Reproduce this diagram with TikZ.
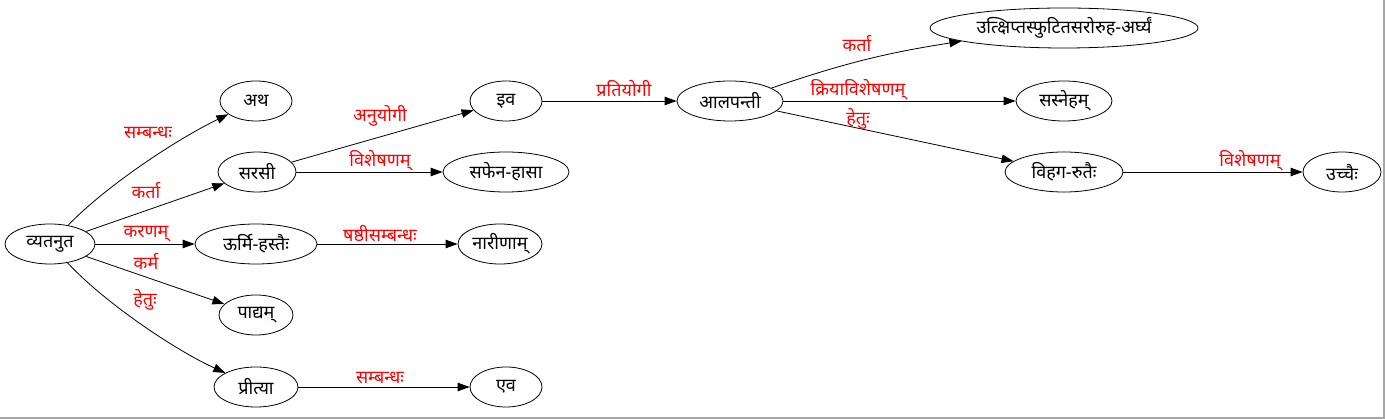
\documentclass[tikz,border=0pt]{standalone}
\usepackage{fontspec}
\newfontfamily\deva[Script=Devanagari]{Noto Sans}
\usetikzlibrary{shapes.geometric,arrows.meta}
\begin{document}
\begin{tikzpicture}[x=1pt,y=-1pt,
  font=\deva\fontsize{18}{20}\selectfont,
  nd/.style={ellipse,draw,line width=0.8pt,inner sep=0pt,minimum height=40pt},
  ed/.style={draw,line width=0.8pt,-{Triangle[length=12pt,width=8.5pt]}},
  lbl/.style={text=red,inner sep=0pt}]
\useasboundingbox (0,0) rectangle (1385,419);
\fill[white] (0,0) rectangle (1385,419);
\draw[gray!70,line width=1.5pt] (0,418) -- (1384,418) -- (1384,0);

% nodes
\node[nd,minimum width=90pt]  (n1)  at (50,244)  {व्यतनुत};
\node[nd,minimum width=72pt]  (n2)  at (256,101) {अथ};
\node[nd,minimum width=78pt]  (n3)  at (257,172) {सरसी};
\node[nd,minimum width=122pt] (n4)  at (256,244) {ऊर्मि-हस्तैः};
\node[nd,minimum width=74pt]  (n5)  at (256,315) {पाद्यम्};
\node[nd,minimum width=84pt]  (n6)  at (256,387) {प्रीत्या};
\node[nd,minimum width=72pt]  (n7)  at (506,101) {इव};
\node[nd,minimum width=126pt] (n8)  at (506,172) {सफेन-हासा};
\node[nd,minimum width=84pt]  (n9)  at (500,244) {नारीणाम्};
\node[nd,minimum width=72pt]  (n10) at (506,387) {एव};
\node[nd,minimum width=106pt] (n11) at (730,101) {आलपन्ती};
\node[nd,minimum width=268pt] (n12) at (1064,28) {उत्क्षिप्तस्फुटितसरोरुह-अर्घ्यं};
\node[nd,minimum width=96pt]  (n13) at (1064,101) {सस्नेहम्};
\node[nd,minimum width=118pt] (n14) at (1064,172) {विहग-रुतैः};
\node[nd,minimum width=78pt]  (n15) at (1342,172) {उच्चैः};

% connectors
\path[ed] (n1) .. controls (105,187) and (175,140) .. (n2);
\path[ed] (n1) -- (n3);
\path[ed] (n1) -- (n4);
\path[ed] (n1) -- (n5);
\path[ed] (n1) .. controls (105,303) and (175,350) .. (n6);
\path[ed] (n3) -- (n7);
\path[ed] (n3) -- (n8);
\path[ed] (n4) -- (n9);
\path[ed] (n6) -- (n10);
\path[ed] (n7) -- (n11);
\path[ed] (n11) to[bend left=5] (n12);
\path[ed] (n11) -- (n13);
\path[ed] (n11) -- (n14);
\path[ed] (n14) -- (n15);

% labels
\node[lbl] (l1)  at (148,133) {सम्बन्धः};
\node[lbl] (l2)  at (146,191) {कर्ता};
\node[lbl] (l3)  at (146,234) {करणम्};
\node[lbl] (l4)  at (146,261) {कर्म};
\node[lbl] (l5)  at (145,300) {हेतुः};
\node[lbl] (l6)  at (380,116) {अनुयोगी};
\node[lbl] (l7)  at (380,161) {विशेषणम्};
\node[lbl] (l8)  at (380,234) {षष्ठीसम्बन्धः};
\node[lbl] (l9)  at (380,378) {सम्बन्धः};
\node[lbl] (l10) at (624,89)  {प्रतियोगी};
\node[lbl] (l11) at (857,44)  {कर्ता};
\node[lbl] (l12) at (858,90)  {क्रियाविशेषणम्};
\node[lbl] (l13) at (858,119) {हेतुः};
\node[lbl] (l14) at (1250,161) {विशेषणम्};
\end{tikzpicture}
\end{document}
